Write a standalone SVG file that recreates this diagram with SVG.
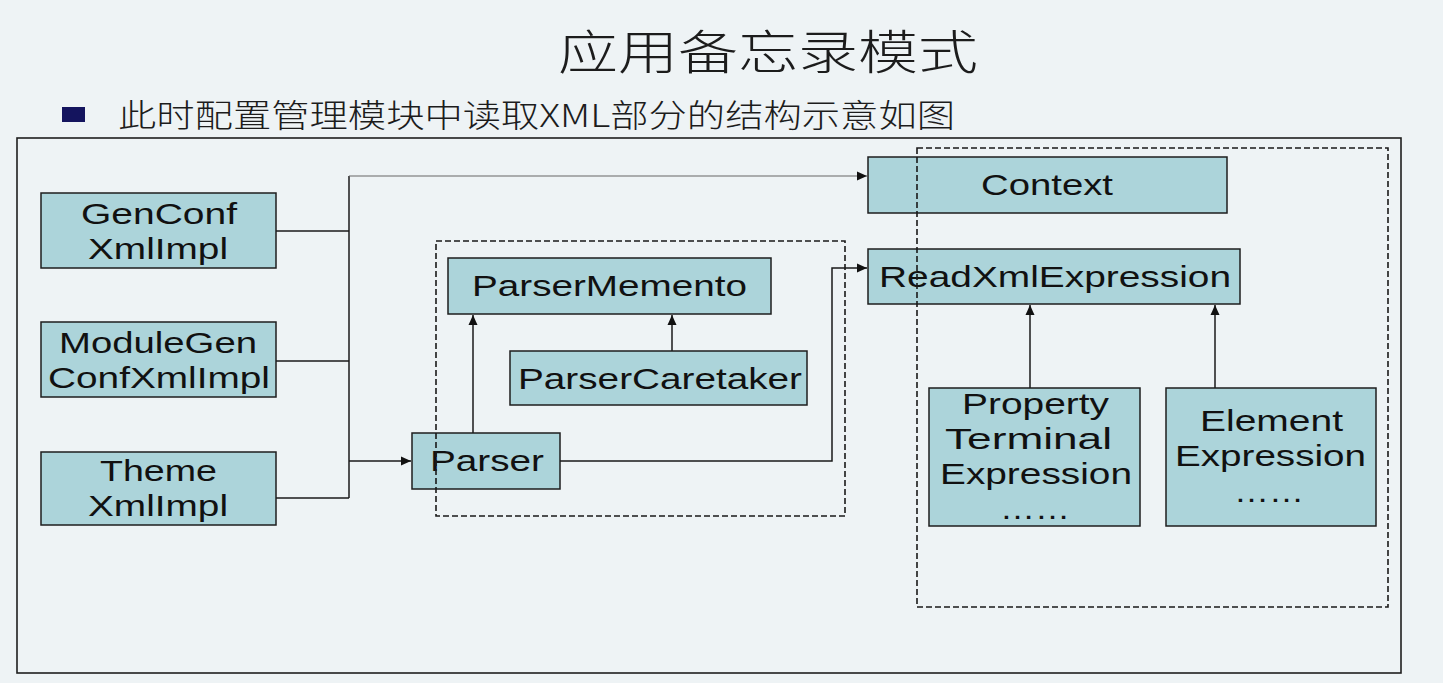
<svg xmlns="http://www.w3.org/2000/svg" width="1443" height="683" viewBox="0 0 1443 683">
<defs>
<style>
.bg{fill:#eef3f5}
.node{fill:#acd4da;stroke:#1e1e1e;stroke-width:1.5}
.lbl{font-family:"Liberation Sans",Arial,sans-serif;font-size:29px;fill:#111;text-anchor:start}
.conn{fill:none;stroke:#1a1a1a;stroke-width:1.5}
.thin{fill:none;stroke:#666;stroke-width:1.2}
.dash{fill:none;stroke:#1a1a1a;stroke-width:1.6;stroke-dasharray:6 3}
.cjk{font-family:"Noto Sans CJK SC","Noto Sans CJK JP",sans-serif;fill:#1c1c1c}
</style>
<marker id="arr" markerUnits="userSpaceOnUse" markerWidth="10" markerHeight="10" refX="10" refY="5" orient="auto">
<path d="M0,0.5 L10,5 L0,9.5 z" fill="#111"/>
</marker>
</defs>
<rect class="bg" x="0" y="0" width="1443" height="683"/>
<text class="cjk" x="558" y="69" font-size="47" font-weight="300" textLength="420" lengthAdjust="spacingAndGlyphs">应用备忘录模式</text>
<rect x="62" y="107" width="23" height="15" fill="#14145e"/>
<text class="cjk" x="118" y="127" font-size="32" font-weight="300" fill="#333" textLength="837" lengthAdjust="spacingAndGlyphs">此时配置管理模块中读取XML部分的结构示意如图</text>
<rect x="17" y="138" width="1384" height="535" fill="none" stroke="#1e1e1e" stroke-width="1.6"/>

<g id="connectors">
<polyline class="conn" points="276,231 349,231"/>
<polyline class="conn" points="276,361 349,361"/>
<polyline class="conn" points="276,498 349,498"/>
<polyline class="conn" points="349,176 349,498"/>
<polyline class="thin" points="349,176 867,176" marker-end="url(#arr)"/>
<polyline class="conn" points="349,461 411,461" marker-end="url(#arr)"/>
<polyline class="conn" points="473,433 473,315" marker-end="url(#arr)"/>
<polyline class="conn" points="672,351 672,315" marker-end="url(#arr)"/>
<polyline class="conn" points="560,461 832,461 832,268 867,268" marker-end="url(#arr)"/>
<polyline class="conn" stroke-width="2" points="1030,388 1030,305" marker-end="url(#arr)"/>
<polyline class="conn" stroke-width="2" points="1215,388 1215,305" marker-end="url(#arr)"/>
</g>

<g id="genconf">
<rect class="node" x="41" y="193" width="235" height="75"/>
<text class="lbl" x="81" y="224" textLength="156" lengthAdjust="spacingAndGlyphs">GenConf</text>
<text class="lbl" x="88" y="259" textLength="140" lengthAdjust="spacingAndGlyphs">XmlImpl</text>
</g>
<g id="modulegen">
<rect class="node" x="41" y="322" width="235" height="75"/>
<text class="lbl" x="59" y="353" textLength="198" lengthAdjust="spacingAndGlyphs">ModuleGen</text>
<text class="lbl" x="48" y="388" textLength="222" lengthAdjust="spacingAndGlyphs">ConfXmlImpl</text>
</g>
<g id="theme">
<rect class="node" x="41" y="452" width="235" height="73"/>
<text class="lbl" x="100" y="481" textLength="117" lengthAdjust="spacingAndGlyphs">Theme</text>
<text class="lbl" x="88" y="516" textLength="140" lengthAdjust="spacingAndGlyphs">XmlImpl</text>
</g>
<g id="parser">
<rect class="node" x="412" y="433" width="148" height="56"/>
<text class="lbl" x="430" y="471" textLength="114" lengthAdjust="spacingAndGlyphs">Parser</text>
</g>
<g id="parsermemento">
<rect class="node" x="448" y="258" width="323" height="56"/>
<text class="lbl" x="472" y="296" textLength="275" lengthAdjust="spacingAndGlyphs">ParserMemento</text>
</g>
<g id="parsercaretaker">
<rect class="node" x="510" y="351" width="297" height="54"/>
<text class="lbl" x="518" y="389" textLength="284" lengthAdjust="spacingAndGlyphs">ParserCaretaker</text>
</g>
<g id="context">
<rect class="node" x="868" y="157" width="359" height="56"/>
<text class="lbl" x="981" y="195" textLength="132" lengthAdjust="spacingAndGlyphs">Context</text>
</g>
<g id="readxmlexpression">
<rect class="node" x="868" y="249" width="372" height="55"/>
<text class="lbl" x="879" y="287" textLength="352" lengthAdjust="spacingAndGlyphs">ReadXmlExpression</text>
</g>
<g id="propertyterminal">
<rect class="node" x="929" y="388" width="211" height="138"/>
<text class="lbl" x="962" y="414" textLength="147" lengthAdjust="spacingAndGlyphs">Property</text>
<text class="lbl" x="945" y="449" textLength="167" lengthAdjust="spacingAndGlyphs">Terminal</text>
<text class="lbl" x="940" y="484" textLength="192" lengthAdjust="spacingAndGlyphs">Expression</text>
<text class="lbl" x="1000" y="519" textLength="70" lengthAdjust="spacingAndGlyphs">……</text>
</g>
<g id="elementexpression">
<rect class="node" x="1166" y="388" width="210" height="138"/>
<text class="lbl" x="1200" y="431" textLength="143" lengthAdjust="spacingAndGlyphs">Element</text>
<text class="lbl" x="1175" y="466" textLength="191" lengthAdjust="spacingAndGlyphs">Expression</text>
<text class="lbl" x="1234" y="502" textLength="70" lengthAdjust="spacingAndGlyphs">……</text>
</g>

<g id="frames">
<rect class="dash" x="436" y="241" width="409" height="275"/>
<rect class="dash" x="917" y="148" width="471" height="459"/>
</g>
</svg>
